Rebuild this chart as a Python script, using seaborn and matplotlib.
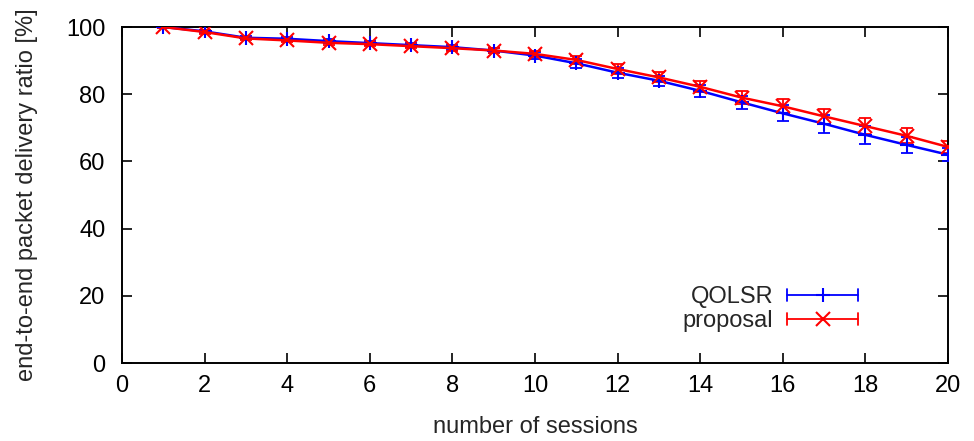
import numpy as np
import pandas as pd
import matplotlib
matplotlib.use("Agg")
import matplotlib.pyplot as plt
import seaborn as sns
from matplotlib.legend_handler import HandlerBase
from matplotlib.lines import Line2D

sessions = [1, 2, 3, 4, 5, 6, 7, 8, 9, 10, 11, 12, 13, 14, 15, 16, 17, 18, 19, 20]
qolsr = [100.0, 98.7, 96.8, 96.5, 95.8, 95.2, 94.6, 94.0, 93.0, 91.5,
         89.2, 86.4, 84.0, 81.0, 77.6, 74.3, 71.2, 67.9, 64.9, 62.0]
qolsr_err = [0.2, 0.5, 0.5, 0.6, 0.6, 0.6, 0.7, 0.7, 0.8, 1.0,
             1.4, 1.5, 1.5, 1.7, 2.0, 2.4, 2.6, 2.7, 2.3, 2.0]
proposal = [100.0, 98.5, 96.6, 96.0, 95.3, 94.9, 94.3, 93.7, 93.0, 92.0,
            90.2, 87.5, 85.0, 82.2, 79.0, 76.4, 73.4, 70.5, 67.6, 64.3]
proposal_err = [0.2, 0.5, 0.5, 0.5, 0.6, 0.6, 0.6, 0.7, 0.7, 0.9,
                1.3, 1.4, 1.5, 1.6, 1.9, 2.1, 2.2, 2.3, 2.2, 1.8]
series_names = ["QOLSR", "proposal"]
x_ticks = [0, 2, 4, 6, 8, 10, 12, 14, 16, 18, 20]
y_ticks = [0, 20, 40, 60, 80, 100]

FS = 17

sns.set_style("ticks")
plt.rcParams['font.family'] = ['Liberation Sans', 'DejaVu Sans']
plt.rcParams['font.size'] = FS

df = pd.DataFrame({
    "sessions": sessions * 2,
    "ratio": qolsr + proposal,
    "err": qolsr_err + proposal_err,
    "series": [series_names[0]] * len(sessions) + [series_names[1]] * len(sessions),
})

colors = {"QOLSR": "#0000ff", "proposal": "#ff0000"}
markers = {"QOLSR": "+", "proposal": "x"}

fig = plt.figure(figsize=(9.74, 4.41), dpi=100)
ax = fig.add_axes([122/974, 78/441, 826/974, 336/441])

for name in series_names:
    sub = df[df["series"] == name]
    ax.errorbar(sub["sessions"], sub["ratio"], yerr=sub["err"], fmt="none",
                ecolor=colors[name], elinewidth=1.3, capsize=4.5, capthick=1.3, zorder=2)
    sns.lineplot(data=sub, x="sessions", y="ratio", ax=ax, color=colors[name],
                 marker=markers[name], markersize=10.5, markeredgewidth=1.5,
                 markeredgecolor=colors[name], linewidth=1.8, legend=False, zorder=3)

ax.set_xlim(0, 20)
ax.set_ylim(0, 100)
ax.set_xticks(x_ticks)
ax.set_yticks(y_ticks)
ax.tick_params(direction="in", length=7, width=1.2, top=True, right=True,
               labelsize=FS, colors="black")
ax.tick_params(axis="x", pad=9)
ax.tick_params(axis="y", pad=12)
for s in ax.spines.values():
    s.set_linewidth(1.4)
    s.set_color("black")
ax.set_xlabel("number of sessions", fontsize=FS, labelpad=13)
ax.set_ylabel("end-to-end packet delivery ratio [%]", fontsize=FS, labelpad=20)


class ErrLegendHandler(HandlerBase):
    def __init__(self, color, marker):
        super().__init__()
        self.color = color
        self.marker = marker

    def create_artists(self, legend, orig_handle, xdescent, ydescent, width, height, fontsize, trans):
        y = height / 2 - ydescent
        x0, x1 = -xdescent, -xdescent + width
        cap = 4.5
        arts = [
            Line2D([x0, x1], [y, y], color=self.color, lw=1.3),
            Line2D([x0, x0], [y - cap, y + cap], color=self.color, lw=1.3),
            Line2D([x1, x1], [y - cap, y + cap], color=self.color, lw=1.3),
            Line2D([(x0 + x1) / 2], [y], color=self.color, marker=self.marker,
                   markersize=10, markeredgewidth=1.5, linestyle="none"),
        ]
        for a in arts:
            a.set_transform(trans)
        return arts


h1 = Line2D([], [], color=colors["QOLSR"])
h2 = Line2D([], [], color=colors["proposal"])
ax.legend([h1, h2], series_names, loc="lower right", bbox_to_anchor=(0.900, 0.07),
          frameon=False, markerfirst=False, handlelength=3.0, handletextpad=0.6,
          labelspacing=0.1, fontsize=FS, borderpad=0.3, borderaxespad=0.0,
          handler_map={h1: ErrLegendHandler(colors["QOLSR"], "+"),
                       h2: ErrLegendHandler(colors["proposal"], "x")})

fig.savefig("out.png", dpi=100)
